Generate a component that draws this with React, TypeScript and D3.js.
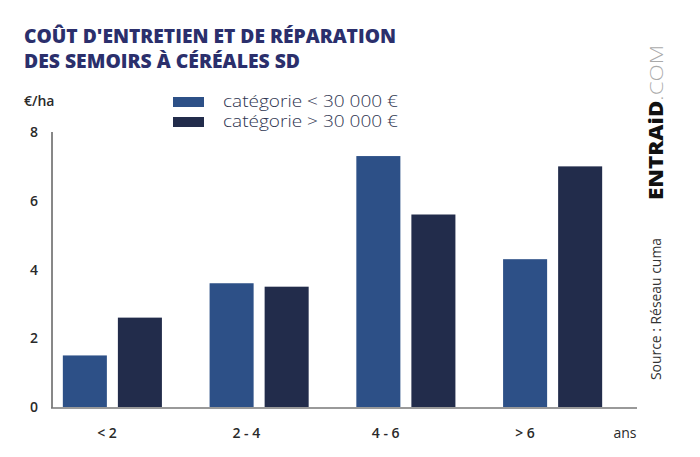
import React, { useRef, useEffect } from 'react';
import * as d3 from 'd3';

const categories = ['< 2', '2 - 4', '4 - 6', '> 6'];
const seriesNames = ['catégorie < 30 000 €', 'catégorie > 30 000 €'];
const lowValues = [1.5, 3.6, 7.3, 4.3];
const highValues = [2.6, 3.5, 5.6, 7.0];
const yTicks = [0, 2, 4, 6, 8];
const titleLines = ["COÛT D'ENTRETIEN ET DE RÉPARATION", 'DES SEMOIRS À CÉRÉALES SD'];

const colors = ['#2d5087', '#222c4b'];
const width = 700;
const height = 457;

const App = () => {
  const ref = useRef(null);

  useEffect(() => {
    const svg = d3.select(ref.current);
    svg.selectAll('*').remove();

    // title
    svg
      .append('g')
      .selectAll('text')
      .data(titleLines)
      .enter()
      .append('text')
      .attr('x', 24)
      .attr('y', (d, i) => 43 + i * 25)
      .attr('textLength', (d, i) => (i === 0 ? 372 : 276))
      .attr('lengthAdjust', 'spacingAndGlyphs')
      .attr('font-family', 'Open Sans, sans-serif')
      .attr('font-weight', 800)
      .attr('font-size', 20)
      .attr('fill', '#2b2f6c')
      .text((d) => d);

    const y = d3.scaleLinear().domain([0, 8]).range([407, 132]);
    const x0 = d3.scaleBand().domain(categories).range([39, 626]).padding(0);
    const x1 = d3
      .scaleBand()
      .domain(seriesNames)
      .range([0, x0.bandwidth()])
      .paddingInner(0.2)
      .paddingOuter(0.433);
    const xLabel = d3.scalePoint().domain(categories).range([107, 525]);

    // unit label
    svg
      .append('text')
      .attr('x', 24)
      .attr('y', 106)
      .attr('font-family', 'Open Sans, sans-serif')
      .attr('font-weight', 600)
      .attr('font-size', 14)
      .attr('fill', '#2a2a2a')
      .text('€/ha');

    // y tick labels
    svg
      .append('g')
      .selectAll('text')
      .data(yTicks)
      .enter()
      .append('text')
      .attr('x', 34)
      .attr('y', (d) => y(d) + 5)
      .attr('text-anchor', 'middle')
      .attr('font-family', 'Open Sans, sans-serif')
      .attr('font-weight', 600)
      .attr('font-size', 14)
      .attr('fill', '#2a2a2a')
      .text((d) => d);

    // bars
    const rows = categories.map((c, i) => ({ cat: c, vals: [lowValues[i], highValues[i]] }));
    const groups = svg
      .append('g')
      .selectAll('g')
      .data(rows)
      .enter()
      .append('g')
      .attr('transform', (d) => `translate(${x0(d.cat)},0)`);
    groups
      .selectAll('rect')
      .data((d) => d.vals.map((v, j) => ({ name: seriesNames[j], v, j })))
      .enter()
      .append('rect')
      .attr('x', (d) => x1(d.name))
      .attr('width', x1.bandwidth())
      .attr('y', (d) => y(d.v))
      .attr('height', (d) => y(0) - y(d.v))
      .attr('fill', (d) => colors[d.j]);

    // axes
    svg
      .append('line')
      .attr('x1', 52)
      .attr('x2', 52)
      .attr('y1', y(8))
      .attr('y2', y(0) + 1)
      .attr('stroke', '#111')
      .attr('stroke-width', 1);
    svg
      .append('line')
      .attr('x1', 51)
      .attr('x2', 637)
      .attr('y1', y(0) + 1)
      .attr('y2', y(0) + 1)
      .attr('stroke', '#777')
      .attr('stroke-width', 1.6);

    // x labels
    svg
      .append('g')
      .selectAll('text')
      .data(categories)
      .enter()
      .append('text')
      .attr('x', (d) => xLabel(d))
      .attr('y', 438)
      .attr('text-anchor', 'middle')
      .attr('font-family', 'Open Sans, sans-serif')
      .attr('font-weight', 600)
      .attr('font-size', 14)
      .attr('fill', '#2a2a2a')
      .text((d) => d);
    svg
      .append('text')
      .attr('x', 625)
      .attr('y', 438)
      .attr('text-anchor', 'middle')
      .attr('font-family', 'Open Sans, sans-serif')
      .attr('font-weight', 400)
      .attr('font-size', 14)
      .attr('fill', '#2a2a2a')
      .text('ans');

    // legend
    const legend = svg
      .append('g')
      .selectAll('g')
      .data(seriesNames)
      .enter()
      .append('g')
      .attr('transform', (d, i) => `translate(173,${97 + i * 20})`);
    legend
      .append('rect')
      .attr('width', 31)
      .attr('height', 10)
      .attr('fill', (d, i) => colors[i]);
    legend
      .append('text')
      .attr('x', 50)
      .attr('y', 10)
      .attr('textLength', 175)
      .attr('lengthAdjust', 'spacingAndGlyphs')
      .attr('font-family', 'Open Sans, sans-serif')
      .attr('font-weight', 300)
      .attr('font-size', 15.5)
      .attr('fill', '#2e3450')
      .text((d) => d);

    // brand + source (rotated)
    const brand = svg
      .append('text')
      .attr('transform', 'translate(663,200) rotate(-90)')
      .attr('font-family', 'Open Sans, sans-serif')
      .attr('font-size', 19)
      .attr('textLength', 155)
      .attr('lengthAdjust', 'spacingAndGlyphs');
    brand.append('tspan').attr('font-weight', 800).attr('fill', '#111').text('ENTRAiD');
    brand.append('tspan').attr('font-weight', 300).attr('fill', '#aaa').text('.COM');

    svg
      .append('text')
      .attr('transform', 'translate(661,380) rotate(-90)')
      .attr('textLength', 142)
      .attr('lengthAdjust', 'spacingAndGlyphs')
      .attr('font-family', 'Open Sans, sans-serif')
      .attr('font-weight', 400)
      .attr('font-size', 14)
      .attr('fill', '#333')
      .text('Source : Réseau cuma');
  }, []);

  return (
    <svg
      ref={ref}
      width={width}
      height={height}
      style={{ position: 'absolute', left: 0, top: 0, background: '#fff' }}
    />
  );
};

export default App;
